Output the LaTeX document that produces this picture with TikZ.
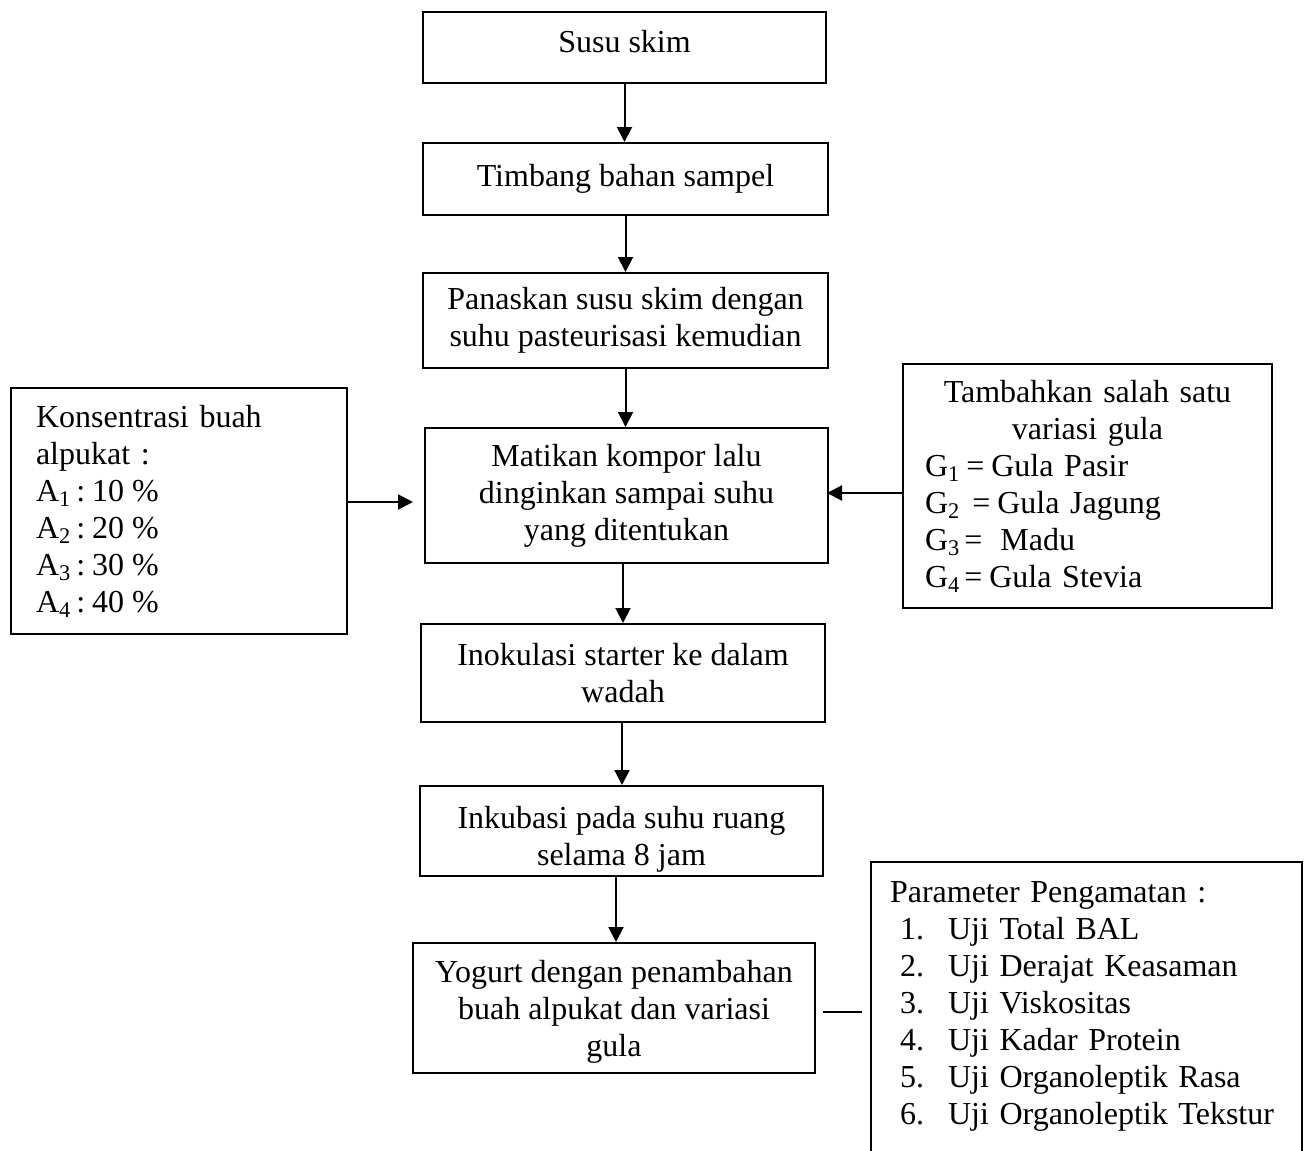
\documentclass[tikz,border=0pt]{standalone}
\usepackage{fontspec}
\setmainfont{Liberation Serif}
\usetikzlibrary{arrows.meta}
\newcommand\figfont{\fontsize{16pt}{18.5pt}\selectfont}
\begin{document}
\begin{tikzpicture}[x=0.5pt,y=-0.5pt,
  bline/.style={line width=1pt},
  flowbox/.style={draw, line width=1pt, inner sep=0pt, align=center, font=\figfont},
  arr/.style={line width=1pt, -{Triangle[length=7.5pt,width=7.5pt]}}]
\useasboundingbox (0,0) rectangle (1308,1151);

\node[flowbox, minimum width=201.5pt, minimum height=35.5pt] (susu) at (624.5,47.5) {\rule[-6pt]{0pt}{6pt}Susu skim};
\node[flowbox, minimum width=202.5pt, minimum height=36pt] (timbang) at (625.5,179) {\rule[-2pt]{0pt}{2pt}Timbang bahan sampel};
\node[flowbox, minimum width=202.5pt, minimum height=47.5pt] (panas) at (625.5,320.5) {Panaskan susu skim dengan\\suhu pasteurisasi kemudian};
\node[flowbox, minimum width=201.5pt, minimum height=67.5pt] (matikan) at (626.5,495.5) {Matikan kompor lalu\\dinginkan sampai suhu\\yang ditentukan};
\node[flowbox, minimum width=202pt, minimum height=49pt] (inok) at (623,673) {Inokulasi starter ke dalam\\wadah};
\node[flowbox, minimum width=201.5pt, minimum height=45pt] (inkub) at (621.5,831) {\rule{0pt}{19pt}Inkubasi pada suhu ruang\\selama 8 jam};
\node[flowbox, minimum width=201pt, minimum height=65pt] (yog) at (614,1008) {\rule{0pt}{15pt}Yogurt dengan penambahan\\buah alpukat dan variasi\\gula};

\node[flowbox, align=left, inner xsep=12.5pt, text width=143pt, minimum height=123pt] (left) at (179,511)
 {Konsentrasi buah\\alpukat :\\
  A\textsubscript{1}\hspace{2.5pt}:\hspace{3.5pt}10\hspace{4pt}\%\\
  A\textsubscript{2}\hspace{2.5pt}:\hspace{3.5pt}20\hspace{4pt}\%\\
  A\textsubscript{3}\hspace{2.5pt}:\hspace{3.5pt}30\hspace{4pt}\%\\
  A\textsubscript{4}\hspace{2.5pt}:\hspace{3.5pt}40\hspace{4pt}\%};

\node[flowbox, align=center, inner xsep=11pt, text width=162.5pt, minimum height=122pt] (right) at (1087.5,486)
 {Tambahkan salah satu\\variasi gula\\
  \makebox[\hsize][l]{G\textsubscript{1}\hspace{3pt}=\hspace{3.5pt}Gula Pasir}\\
  \makebox[\hsize][l]{G\textsubscript{2}\hspace{6pt}=\hspace{3.5pt}Gula Jagung}\\
  \makebox[\hsize][l]{G\textsubscript{3}\hspace{2pt}=\hspace{9pt}Madu}\\
  \makebox[\hsize][l]{G\textsubscript{4}\hspace{2pt}=\hspace{3.5pt}Gula Stevia}};

\node[align=left, inner sep=0pt, inner xsep=9.5pt, text width=196.5pt, minimum height=144.5pt, font=\figfont] (param) at (1086.5,1006.5)
 {Parameter Pengamatan :\\
  \hspace*{5pt}\makebox[24pt][l]{1.}Uji Total BAL\\
  \hspace*{5pt}\makebox[24pt][l]{2.}Uji Derajat Keasaman\\
  \hspace*{5pt}\makebox[24pt][l]{3.}Uji Viskositas\\
  \hspace*{5pt}\makebox[24pt][l]{4.}Uji Kadar Protein\\
  \hspace*{5pt}\makebox[24pt][l]{5.}Uji Organoleptik Rasa\\
  \hspace*{5pt}\makebox[24pt][l]{6.}Uji Organoleptik Tekstur};
\draw[bline] (param.south west) -- (param.north west) -- (param.north east) -- (param.south east);

\draw[arr] (susu.south) -- (susu.south |- timbang.north);
\draw[arr] (timbang.south) -- (timbang.south |- panas.north);
\draw[arr] (panas.south) -- (panas.south |- matikan.north);
\draw[arr] ([xshift=-1.75pt]matikan.south) -- ([xshift=-1.75pt]matikan.south |- inok.north);
\draw[arr] ([xshift=-0.5pt]inok.south) -- ([xshift=-0.5pt]inok.south |- inkub.north);
\draw[arr] ([xshift=-2.75pt]inkub.south) -- ([xshift=-2.75pt]inkub.south |- yog.north);

\draw[arr] ([yshift=4.5pt]left.east) -- ([xshift=-5.5pt,yshift=-3.25pt]matikan.west);
\draw[arr] ([yshift=-3.5pt]right.west) -- ([xshift=-1pt,yshift=1.25pt]matikan.east);
\draw[bline] ([xshift=3.5pt,yshift=-2pt]yog.east) -- ([xshift=-4.5pt,yshift=-2.75pt]param.west);
\end{tikzpicture}
\end{document}
